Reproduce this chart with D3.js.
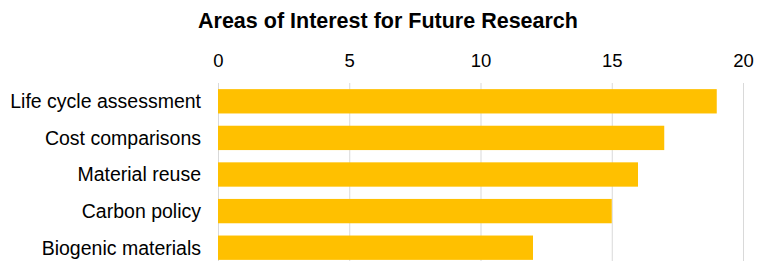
<!doctype html>
<html>
<head>
  <title>Areas of Interest for Future Research</title>
<style>
  body { margin:0; background:#fff; }
  svg { display:block; font-family:"Liberation Sans", Arial, sans-serif; }
  .title { font-size:21.5px; font-weight:bold; fill:#000; }
  .axis text { font-size:18.5px; fill:#000; }
  .axis path { display:none; }
  .axis line { stroke:#d9d9d9; stroke-width:1px; }
  .cat text { font-size:19.5px; fill:#000; }
  #bars rect { fill:#ffc000; }
</style>
<script src="https://cdn.jsdelivr.net/npm/d3@7"></script>
</head>
<body>
<svg id="chart" width="757" height="261"></svg>
<script>

  var categories = ["Life cycle assessment", "Cost comparisons", "Material reuse", "Carbon policy", "Biogenic materials"]
  var values = [19, 17, 16, 15, 12]
  var ticks = [0, 5, 10, 15, 20]

  var svg = d3.select("#chart")

  var xScale = d3.scaleLinear().domain([0, 20]).range([218, 743])
  var yScale = d3.scaleBand().domain(categories).range([83, 266])
                 .paddingInner(0.335).paddingOuter(0.1675)

  svg.append("text")
     .attr("class", "title")
     .attr("x", 388)
     .attr("y", 28)
     .attr("text-anchor", "middle")
     .text("Areas of Interest for Future Research")

  // gridlines + tick labels at the top
  svg.append("g")
     .attr("class", "axis")
     .attr("transform", "translate(0, 83)")
     .call(d3.axisTop(xScale).tickValues(ticks).tickSize(-200).tickPadding(16.5))

  svg.append("g")
     .attr("id", "bars")
     .selectAll("rect")
     .data(values)
     .enter()
     .append("rect")
     .attr("x", xScale(0))
     .attr("y", function(d,i){ return yScale(categories[i]) })
     .attr("width", function(d){ return xScale(d) - xScale(0) })
     .attr("height", yScale.bandwidth())

  svg.append("g")
     .attr("class", "cat")
     .selectAll("text")
     .data(categories)
     .enter()
     .append("text")
     .attr("x", 201)
     .attr("y", function(d){ return yScale(d) + yScale.bandwidth()/2 })
     .attr("dy", "0.35em")
     .attr("text-anchor", "end")
     .text(function(d){ return d })

</script>
</body>
</html>
